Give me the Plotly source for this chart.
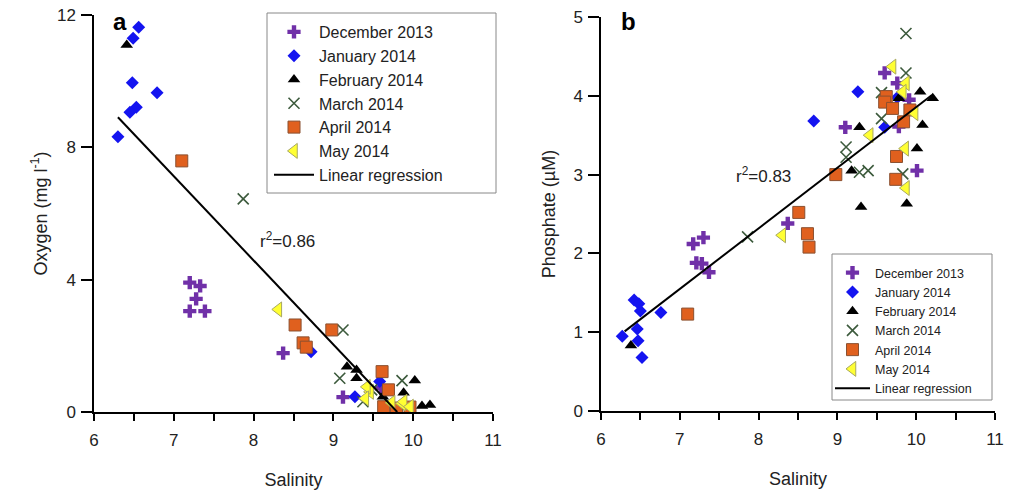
import plotly.graph_objects as go

# ---------------- data ----------------
months = ["December 2013", "January 2014", "February 2014",
          "March 2014", "April 2014", "May 2014"]

# Panel a: salinity vs oxygen (mg l-1)
dec_a_x = [7.20, 7.33, 7.28, 7.20, 7.39, 8.37, 9.12, 9.60]
dec_a_y = [3.91, 3.81, 3.42, 3.05, 3.05, 1.78, 0.45, 0.72]
jan_a_x = [6.56, 6.49, 6.48, 6.79, 6.53, 6.45, 6.30, 8.72, 9.27, 9.58]
jan_a_y = [11.63, 11.30, 9.95, 9.65, 9.21, 9.06, 8.32, 1.82, 0.46, 0.92]
feb_a_x = [6.41, 9.17, 9.29, 9.29, 9.62, 9.88, 10.02, 10.11, 10.21]
feb_a_y = [11.09, 1.37, 1.27, 1.02, 0.46, 0.58, 0.95, 0.18, 0.21]
mar_a_x = [7.87, 9.12, 9.08, 9.86, 9.37, 9.48]
mar_a_y = [6.44, 2.48, 1.02, 0.95, 0.31, 0.67]
apr_a_x = [7.10, 8.52, 8.98, 8.62, 8.66, 9.61, 9.69, 9.63, 9.79, 9.96]
apr_a_y = [7.59, 2.63, 2.48, 2.09, 1.96, 1.22, 0.67, 0.16, 0.12, 0.15]
may_a_x = [8.31, 9.46, 9.42, 9.40, 9.73, 9.86, 9.88, 9.96]
may_a_y = [3.10, 0.61, 0.76, 0.41, 0.28, 0.26, 0.31, 0.16]
reg_a_x = [6.30, 9.80]
reg_a_y = [8.91, 0.0]
r2_a = "r<sup>2</sup>=0.86"

# Panel b: salinity vs phosphate (uM)
dec_b_x = [7.17, 7.30, 7.21, 7.28, 7.37, 8.37, 9.10, 9.60, 9.76, 9.91, 9.78, 10.01]
dec_b_y = [2.12, 2.20, 1.88, 1.87, 1.76, 2.38, 3.60, 4.29, 4.16, 3.95, 3.61, 3.05]
jan_b_x = [6.42, 6.48, 6.50, 6.76, 6.27, 6.46, 6.47, 6.52, 8.70, 9.26, 9.76, 9.60]
jan_b_y = [1.41, 1.36, 1.27, 1.25, 0.95, 1.04, 0.89, 0.68, 3.68, 4.05, 3.98, 3.60]
feb_b_x = [6.38, 9.28, 9.18, 9.30, 9.78, 10.05, 10.21, 10.08, 10.01, 9.88]
feb_b_y = [0.83, 3.60, 3.05, 2.59, 3.97, 4.05, 3.97, 3.63, 3.33, 2.63]
mar_b_x = [7.86, 9.87, 9.87, 9.56, 9.56, 9.11, 9.11, 9.28, 9.39, 9.83]
mar_b_y = [2.21, 4.79, 4.29, 4.04, 3.71, 3.35, 3.22, 3.03, 3.05, 3.01]
apr_b_x = [7.10, 8.51, 8.62, 8.64, 8.98, 9.62, 9.60, 9.70, 9.92, 9.84, 9.75, 9.74]
apr_b_y = [1.23, 2.52, 2.25, 2.08, 3.00, 3.99, 3.92, 3.84, 3.82, 3.67, 3.23, 2.94]
may_b_x = [8.30, 9.41, 9.70, 9.87, 9.83, 9.98, 9.86, 9.87]
may_b_y = [2.23, 3.50, 4.37, 4.16, 4.05, 3.78, 3.33, 2.83]
reg_b_x = [6.30, 10.20]
reg_b_y = [1.01, 4.01]
r2_b = "r<sup>2</sup>=0.83"

x_ticks = [6, 7, 8, 9, 10, 11]
y_ticks_a = [0, 4, 8, 12]
y_ticks_b = [0, 1, 2, 3, 4, 5]

# ---------------- styles ----------------
styles = [
    dict(symbol="cross", size=11, color="#7030A8", line=dict(width=0)),
    dict(symbol="diamond", size=10, color="#1414F0", line=dict(width=0)),
    dict(symbol="triangle-up", size=11, color="#000000", line=dict(width=0)),
    dict(symbol="x-thin", size=11, color="#3C5A3C", line=dict(width=1.6, color="#3C5A3C")),
    dict(symbol="square", size=12, color="#E0601E", line=dict(width=1, color="#8A5030")),
    dict(symbol="triangle-left", size=13, color="#FFFF33", line=dict(width=1, color="#A8A860")),
]

data_a = [(dec_a_x, dec_a_y), (jan_a_x, jan_a_y), (feb_a_x, feb_a_y),
          (mar_a_x, mar_a_y), (apr_a_x, apr_a_y), (may_a_x, may_a_y)]
data_b = [(dec_b_x, dec_b_y), (jan_b_x, jan_b_y), (feb_b_x, feb_b_y),
          (mar_b_x, mar_b_y), (apr_b_x, apr_b_y), (may_b_x, may_b_y)]

fig = go.Figure()

for i, (name, (xs, ys), st) in enumerate(zip(months, data_a, styles)):
    fig.add_trace(go.Scatter(x=xs, y=ys, mode="markers", name=name,
                             marker=st, xaxis="x", yaxis="y",
                             legend="legend", legendrank=i + 1))
fig.add_trace(go.Scatter(x=reg_a_x, y=reg_a_y, mode="lines", name="Linear regression",
                         line=dict(color="black", width=2), xaxis="x", yaxis="y",
                         legend="legend", legendrank=10))

for i, (name, (xs, ys), st) in enumerate(zip(months, data_b, styles)):
    fig.add_trace(go.Scatter(x=xs, y=ys, mode="markers", name=name,
                             marker=st, xaxis="x2", yaxis="y2",
                             legend="legend2", legendrank=i + 1))
fig.add_trace(go.Scatter(x=reg_b_x, y=reg_b_y, mode="lines", name="Linear regression",
                         line=dict(color="black", width=2), xaxis="x2", yaxis="y2",
                         legend="legend2", legendrank=10))

W, H = 1015, 493
FONT = "Arial, Liberation Sans, sans-serif"
tickfont = dict(family=FONT, size=17, color="#222")
titlefont = dict(family=FONT, size=18, color="#222")

def xaxis(domain, anchor):
    return dict(domain=domain, anchor=anchor, range=[6, 11], tickvals=x_ticks,
                showline=True, linecolor="black", linewidth=1.5, ticks="outside",
                ticklen=7, tickwidth=1.5, tickcolor="black", showgrid=False, zeroline=False,
                minor=dict(dtick=0.5, ticks="outside", ticklen=7, tickwidth=1.5,
                           tickcolor="black", showgrid=False),
                tickfont=tickfont, automargin=False, ticklabelstandoff=5,
                title=dict(text="Salinity", font=titlefont, standoff=24))

def yaxis(domain, anchor, rng, vals, title, standoff):
    return dict(domain=domain, anchor=anchor, range=rng, tickvals=vals,
                showline=True, linecolor="black", linewidth=1.5, ticks="outside",
                ticklen=11, tickwidth=1.5, tickcolor="black", showgrid=False, zeroline=False,
                tickfont=tickfont, automargin=False, ticklabelstandoff=2,
                title=dict(text=title, font=titlefont, standoff=standoff))

fig.update_layout(
    width=W, height=H, margin=dict(l=0, r=0, t=0, b=0),
    paper_bgcolor="white", plot_bgcolor="white",
    xaxis=xaxis([94 / W, 493 / W], "y"),
    yaxis=yaxis([(H - 412) / H, (H - 15) / H], "x", [0, 12], y_ticks_a,
                "Oxygen (mg l<sup>-1</sup>)", 5),
    xaxis2=xaxis([601 / W, 995 / W], "y2"),
    yaxis2=yaxis([(H - 411) / H, (H - 17) / H], "x2", [0, 5], y_ticks_b,
                 "Phosphate (\u00b5M)", 13),
    legend=dict(x=269 / W, y=1 - 15 / H, xanchor="left", yanchor="top",
                bgcolor="rgba(0,0,0,0)", borderwidth=0,
                font=dict(family=FONT, size=16, color="#222"),
                itemwidth=40),
    legend2=dict(x=830 / W, y=1 - 258 / H, xanchor="left", yanchor="top",
                 bgcolor="rgba(0,0,0,0)", borderwidth=0,
                 font=dict(family=FONT, size=12.5, color="#222"),
                 itemwidth=35),
    shapes=[
        dict(type="rect", xref="paper", yref="paper", layer="above",
             x0=267 / W, x1=496 / W, y0=1 - 193 / H, y1=1 - 13 / H,
             fillcolor="white", line=dict(color="#888", width=1)),
        dict(type="rect", xref="paper", yref="paper", layer="above",
             x0=832 / W, x1=992 / W, y0=1 - 400 / H, y1=1 - 254 / H,
             fillcolor="white", line=dict(color="#888", width=1)),
    ],
    annotations=[
        dict(x=8.42, y=5.2, xref="x", yref="y", text=r2_a, showarrow=False,
             font=dict(family=FONT, size=17, color="#222")),
        dict(x=8.06, y=3.0, xref="x2", yref="y2", text=r2_b, showarrow=False,
             font=dict(family=FONT, size=17, color="#222")),
        dict(x=120 / W, y=1 - 22 / H, xref="paper", yref="paper", text="<b>a</b>",
             xanchor="center", yanchor="middle",
             showarrow=False, font=dict(family=FONT, size=24, color="black")),
        dict(x=628 / W, y=1 - 22 / H, xref="paper", yref="paper", text="<b>b</b>",
             xanchor="center", yanchor="middle",
             showarrow=False, font=dict(family=FONT, size=24, color="black")),
    ],
)

fig.write_html("out.html")
